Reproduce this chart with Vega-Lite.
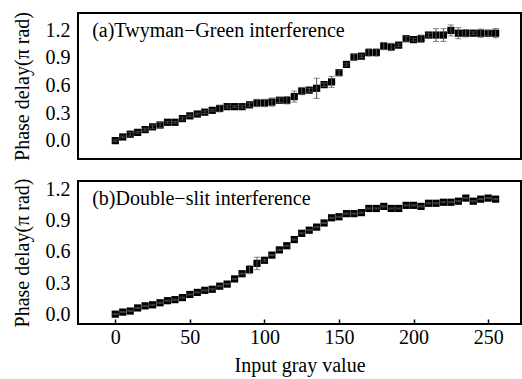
{
  "$schema": "https://vega.github.io/schema/vega-lite/v6.json",
  "autosize": {"type": "none"},
  "padding": {"left": 78, "top": 13, "right": 1, "bottom": 366},
  "bounds": "flush",
  "background": "white",
  "config": {
    "font": "Liberation Serif",
    "view": {"stroke": "black", "strokeWidth": 2},
    "text": {"font": "Liberation Serif", "fontSize": 20, "color": "black"},
    "axis": {"labelFont": "Liberation Serif", "titleFont": "Liberation Serif", "labelFontSize": 20, "titleFontSize": 20, "labelColor": "black", "titleColor": "black", "titleFontWeight": "normal", "grid": false, "domain": false, "labelOverlap": false}
  },
  "datasets": {
    "tg": [
      {"g": 0, "v": 0.0, "e": 0.01}, {"g": 5, "v": 0.04, "e": 0.01}, {"g": 10, "v": 0.07, "e": 0.02}, {"g": 15, "v": 0.09, "e": 0.01},
      {"g": 20, "v": 0.12, "e": 0.015}, {"g": 25, "v": 0.15, "e": 0.02}, {"g": 30, "v": 0.17, "e": 0.03}, {"g": 35, "v": 0.2, "e": 0.01},
      {"g": 40, "v": 0.2, "e": 0.01}, {"g": 45, "v": 0.24, "e": 0.015}, {"g": 50, "v": 0.27, "e": 0.01}, {"g": 55, "v": 0.29, "e": 0.01},
      {"g": 60, "v": 0.31, "e": 0.015}, {"g": 65, "v": 0.33, "e": 0.01}, {"g": 70, "v": 0.35, "e": 0.035}, {"g": 75, "v": 0.37, "e": 0.015},
      {"g": 80, "v": 0.37, "e": 0.01}, {"g": 85, "v": 0.37, "e": 0.015}, {"g": 90, "v": 0.39, "e": 0.02}, {"g": 95, "v": 0.41, "e": 0.04},
      {"g": 100, "v": 0.41, "e": 0.04}, {"g": 105, "v": 0.42, "e": 0.045}, {"g": 110, "v": 0.44, "e": 0.025}, {"g": 115, "v": 0.44, "e": 0.04},
      {"g": 120, "v": 0.48, "e": 0.06}, {"g": 125, "v": 0.54, "e": 0.04}, {"g": 130, "v": 0.55, "e": 0.02}, {"g": 135, "v": 0.57, "e": 0.11},
      {"g": 140, "v": 0.61, "e": 0.02}, {"g": 145, "v": 0.64, "e": 0.06}, {"g": 150, "v": 0.74, "e": 0.03}, {"g": 155, "v": 0.83, "e": 0.015},
      {"g": 160, "v": 0.91, "e": 0.035}, {"g": 165, "v": 0.92, "e": 0.015}, {"g": 170, "v": 0.96, "e": 0.04}, {"g": 175, "v": 0.96, "e": 0.04},
      {"g": 180, "v": 1.03, "e": 0.04}, {"g": 185, "v": 1.02, "e": 0.04}, {"g": 190, "v": 1.04, "e": 0.015}, {"g": 195, "v": 1.11, "e": 0.03},
      {"g": 200, "v": 1.1, "e": 0.015}, {"g": 205, "v": 1.11, "e": 0.04}, {"g": 210, "v": 1.15, "e": 0.02}, {"g": 215, "v": 1.15, "e": 0.07},
      {"g": 220, "v": 1.15, "e": 0.07}, {"g": 225, "v": 1.2, "e": 0.06}, {"g": 230, "v": 1.17, "e": 0.06}, {"g": 235, "v": 1.17, "e": 0.04},
      {"g": 240, "v": 1.17, "e": 0.015}, {"g": 245, "v": 1.17, "e": 0.045}, {"g": 250, "v": 1.17, "e": 0.03}, {"g": 255, "v": 1.17, "e": 0.05}
    ],
    "ds": [
      {"g": 0, "v": 0.0, "e": 0.005}, {"g": 5, "v": 0.02, "e": 0.005}, {"g": 10, "v": 0.03, "e": 0.005}, {"g": 15, "v": 0.06, "e": 0.005},
      {"g": 20, "v": 0.08, "e": 0.005}, {"g": 25, "v": 0.09, "e": 0.005}, {"g": 30, "v": 0.11, "e": 0.005}, {"g": 35, "v": 0.13, "e": 0.005},
      {"g": 40, "v": 0.14, "e": 0.005}, {"g": 45, "v": 0.16, "e": 0.005}, {"g": 50, "v": 0.19, "e": 0.005}, {"g": 55, "v": 0.21, "e": 0.005},
      {"g": 60, "v": 0.23, "e": 0.005}, {"g": 65, "v": 0.24, "e": 0.005}, {"g": 70, "v": 0.27, "e": 0.005}, {"g": 75, "v": 0.29, "e": 0.005},
      {"g": 80, "v": 0.34, "e": 0.005}, {"g": 85, "v": 0.39, "e": 0.005}, {"g": 90, "v": 0.43, "e": 0.04}, {"g": 95, "v": 0.49, "e": 0.06},
      {"g": 100, "v": 0.52, "e": 0.01}, {"g": 105, "v": 0.57, "e": 0.005}, {"g": 110, "v": 0.62, "e": 0.005}, {"g": 115, "v": 0.66, "e": 0.005},
      {"g": 120, "v": 0.72, "e": 0.005}, {"g": 125, "v": 0.78, "e": 0.005}, {"g": 130, "v": 0.81, "e": 0.005}, {"g": 135, "v": 0.84, "e": 0.005},
      {"g": 140, "v": 0.88, "e": 0.005}, {"g": 145, "v": 0.93, "e": 0.005}, {"g": 150, "v": 0.94, "e": 0.005}, {"g": 155, "v": 0.97, "e": 0.005},
      {"g": 160, "v": 0.97, "e": 0.005}, {"g": 165, "v": 0.98, "e": 0.005}, {"g": 170, "v": 1.02, "e": 0.005}, {"g": 175, "v": 1.02, "e": 0.005},
      {"g": 180, "v": 1.04, "e": 0.005}, {"g": 185, "v": 1.02, "e": 0.005}, {"g": 190, "v": 1.02, "e": 0.005}, {"g": 195, "v": 1.05, "e": 0.005},
      {"g": 200, "v": 1.05, "e": 0.005}, {"g": 205, "v": 1.04, "e": 0.005}, {"g": 210, "v": 1.07, "e": 0.005}, {"g": 215, "v": 1.07, "e": 0.005},
      {"g": 220, "v": 1.08, "e": 0.005}, {"g": 225, "v": 1.08, "e": 0.005}, {"g": 230, "v": 1.09, "e": 0.005}, {"g": 235, "v": 1.12, "e": 0.005},
      {"g": 240, "v": 1.09, "e": 0.005}, {"g": 245, "v": 1.11, "e": 0.005}, {"g": 250, "v": 1.12, "e": 0.005}, {"g": 255, "v": 1.11, "e": 0.005}
    ],
    "labels": [
      {"panel": "a", "label": "(a)Twyman−Green interference"},
      {"panel": "b", "label": "(b)Double−slit interference"}
    ]
  },
  "spacing": 22,
  "vconcat": [
    {
      "width": 443,
      "height": 146,
      "layer": [
        {
          "data": {"name": "tg"},
          "mark": {"type": "square", "size": 52, "color": "black", "opacity": 1},
          "encoding": {
            "x": {"field": "g", "type": "quantitative", "scale": {"domain": [-25, 272], "nice": false, "zero": false}, "axis": null},
            "y": {"field": "v", "type": "quantitative", "scale": {"domain": [-0.2, 1.39], "nice": false, "zero": false},
                  "axis": {"values": [0, 0.3, 0.6, 0.9, 1.2], "format": ".1f", "ticks": false, "labelPadding": 8, "labelOverlap": false, "title": "Phase delay(π rad)", "titlePadding": 13}}
          }
        },
        {
          "data": {"name": "tg"},
          "mark": {"type": "errorbar", "ticks": {"size": 6, "color": "#555"}, "color": "#555", "thickness": 1},
          "encoding": {
            "x": {"field": "g", "type": "quantitative", "axis": null},
            "y": {"field": "v", "type": "quantitative",
                  "axis": {"values": [0, 0.3, 0.6, 0.9, 1.2], "format": ".1f", "ticks": false, "labelPadding": 8, "labelOverlap": false, "title": "Phase delay(π rad)", "titlePadding": 13}},
            "yError": {"field": "e"}
          }
        },
        {
          "data": {"name": "labels"},
          "transform": [{"filter": "datum.panel == 'a'"}],
          "mark": {"type": "text", "align": "left", "baseline": "middle", "fontSize": 20, "color": "black", "font": "Liberation Serif"},
          "encoding": {
            "x": {"datum": -15.5, "type": "quantitative", "axis": null},
            "y": {"datum": 1.19, "type": "quantitative",
                  "axis": {"values": [0, 0.3, 0.6, 0.9, 1.2], "format": ".1f", "ticks": false, "labelPadding": 8, "labelOverlap": false, "title": "Phase delay(π rad)", "titlePadding": 13}},
            "text": {"field": "label", "type": "nominal"}
          }
        }
      ]
    },
    {
      "width": 443,
      "height": 143,
      "layer": [
        {
          "data": {"name": "ds"},
          "mark": {"type": "square", "size": 52, "color": "black", "opacity": 1},
          "encoding": {
            "x": {"field": "g", "type": "quantitative", "scale": {"domain": [-25, 272], "nice": false, "zero": false},
                  "axis": {"values": [0, 50, 100, 150, 200, 250], "tickSize": -5, "tickColor": "black", "tickWidth": 1.5, "labelPadding": 8, "labelOverlap": false, "title": "Input gray value", "titlePadding": 8}},
            "y": {"field": "v", "type": "quantitative", "scale": {"domain": [-0.095, 1.285], "nice": false, "zero": false},
                  "axis": {"values": [0, 0.3, 0.6, 0.9, 1.2], "format": ".1f", "ticks": false, "labelPadding": 8, "labelOverlap": false, "title": "Phase delay(π rad)", "titlePadding": 13}}
          }
        },
        {
          "data": {"name": "ds"},
          "mark": {"type": "errorbar", "ticks": {"size": 6, "color": "#555"}, "color": "#555", "thickness": 1},
          "encoding": {
            "x": {"field": "g", "type": "quantitative",
                  "axis": {"values": [0, 50, 100, 150, 200, 250], "tickSize": -5, "tickColor": "black", "tickWidth": 1.5, "labelPadding": 8, "labelOverlap": false, "title": "Input gray value", "titlePadding": 8}},
            "y": {"field": "v", "type": "quantitative",
                  "axis": {"values": [0, 0.3, 0.6, 0.9, 1.2], "format": ".1f", "ticks": false, "labelPadding": 8, "labelOverlap": false, "title": "Phase delay(π rad)", "titlePadding": 13}},
            "yError": {"field": "e"}
          }
        },
        {
          "data": {"name": "labels"},
          "transform": [{"filter": "datum.panel == 'b'"}],
          "mark": {"type": "text", "align": "left", "baseline": "middle", "fontSize": 20, "color": "black", "font": "Liberation Serif"},
          "encoding": {
            "x": {"datum": -15.5, "type": "quantitative",
                  "axis": {"values": [0, 50, 100, 150, 200, 250], "tickSize": -5, "tickColor": "black", "tickWidth": 1.5, "labelPadding": 8, "labelOverlap": false, "title": "Input gray value", "titlePadding": 8}},
            "y": {"datum": 1.11, "type": "quantitative",
                  "axis": {"values": [0, 0.3, 0.6, 0.9, 1.2], "format": ".1f", "ticks": false, "labelPadding": 8, "labelOverlap": false, "title": "Phase delay(π rad)", "titlePadding": 13}},
            "text": {"field": "label", "type": "nominal"}
          }
        }
      ]
    }
  ]
}
